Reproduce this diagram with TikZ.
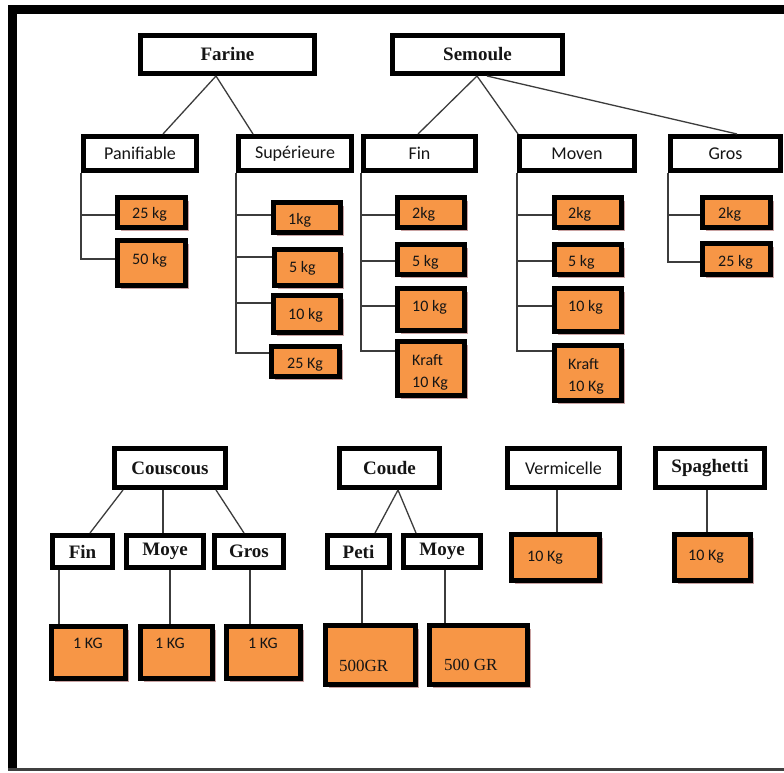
\documentclass[tikz,border=0pt]{standalone}
\usepackage{fontspec}
\setmainfont{Liberation Serif}
\newfontfamily\calfont{Carlito}
\usetikzlibrary{shadows}
\definecolor{orangefill}{HTML}{F79646}
\definecolor{shadowc}{HTML}{C9A2A2}
\definecolor{linec}{HTML}{3C3C3C}
\definecolor{textc}{HTML}{151515}
\newcommand\bx[7]{\node[#2, minimum width={(#5-#3-5)*1pt}, minimum height={(#6-#4-5)*1pt}] (#1) at ({(#3+#5)/2},{(#4+#6)/2}) {#7};}
\tikzset{
  wbox/.style={draw=black, line width=5pt, fill=white, inner sep=0pt, text=textc},
  serifb/.style={font=\fontsize{19}{21}\selectfont\bfseries},
  calmid/.style={font=\calfont\fontsize{18}{20}\selectfont},
  obox/.style={draw=black, line width=5pt, fill=orangefill, inner sep=0pt,
    drop shadow={shadow xshift=3.5pt, shadow yshift=-3.5pt, fill=shadowc, opacity=1}},
  otext/.style={anchor=base west, inner sep=0pt, text=textc, font=\calfont\fontsize{16}{20}\selectfont},
  gtext/.style={anchor=base west, inner sep=0pt, text=textc, font=\fontsize{17}{20}\selectfont},
  conn/.style={draw=linec, line width=1.3pt}
}
\begin{document}
\begin{tikzpicture}[x=1pt,y=-1pt]
\useasboundingbox (0,0) rectangle (784,773);
\fill[white] (0,0) rectangle (784,773);
% frame
\fill[black] (8,5) rectangle (784,14);
\fill[black] (8,5) rectangle (17,771);
\draw[black!75, line width=2.5pt] (8,769.5) -- (784,769.5);

% top level
\bx{farine}{wbox,serifb}{138}{33}{317}{76}{Farine}
\bx{semoule}{wbox,serifb}{390}{33}{565}{76}{Semoule}
\bx{pan}{wbox,calmid}{81}{134}{199}{173}{Panifiable}
\bx{sup}{wbox,calmid}{236}{134}{354}{173}{Supérieure}
\bx{sfin}{wbox,calmid}{361}{134}{478}{173}{Fin}
\bx{smov}{wbox,calmid}{517}{134}{637}{173}{Moven}
\bx{sgros}{wbox,calmid}{668}{134}{783}{173}{Gros}

% orange boxes top
\bx{p25}{obox}{115}{195}{188}{230}{}
\bx{p50}{obox}{115}{238}{188}{288}{}
\bx{s1}{obox}{271}{200}{343}{235}{}
\bx{s5}{obox}{272}{247}{343}{288}{}
\bx{s10}{obox}{271}{293}{343}{335}{}
\bx{s25}{obox}{269}{344}{342}{379}{}
\bx{f2}{obox}{395}{195}{467}{230}{}
\bx{f5}{obox}{395}{242}{467}{277}{}
\bx{f10}{obox}{395}{286}{467}{333}{}
\bx{fk}{obox}{395}{339}{467}{398}{}
\bx{m2}{obox}{552}{195}{624}{230}{}
\bx{m5}{obox}{552}{242}{624}{277}{}
\bx{m10}{obox}{552}{286}{624}{334}{}
\bx{mk}{obox}{552}{343}{624}{403}{}
\bx{g2}{obox}{700}{195}{773}{230}{}
\bx{g25}{obox}{700}{241}{773}{277}{}

\node[otext] (tp25) at (132,218) {25 kg};
\node[otext] (tp50) at (132,264) {50 kg};
\node[otext] (ts1) at (288,224) {1kg};
\node[otext] (ts5) at (289,272) {5 kg};
\node[otext] (ts10) at (288,319) {10 kg};
\node[otext] (ts25) at (287,368) {25 Kg};
\node[otext] (tf2) at (412,218) {2kg};
\node[otext] (tf5) at (412,266) {5 kg};
\node[otext] (tf10) at (412,311) {10 kg};
\node[otext] (tfk1) at (412,365) {Kraft};
\node[otext] (tfk2) at (412,387) {10 Kg};
\node[otext] (tm2) at (568,218) {2kg};
\node[otext] (tm5) at (568,266) {5 kg};
\node[otext] (tm10) at (568,311) {10 kg};
\node[otext] (tmk1) at (568,369) {Kraft};
\node[otext] (tmk2) at (568,391) {10 Kg};
\node[otext] (tg2) at (718,218) {2kg};
\node[otext] (tg25) at (718,266) {25 kg};

% connectors top
\draw[conn] (farine.south -| 216,0) -- (pan.north -| 163,0);
\draw[conn] (farine.south -| 216,0) -- (sup.north -| 253,0);
\draw[conn] (semoule.south -| 477,0) -- (sfin.north -| 418,0);
\draw[conn] (semoule.south -| 477,0) -- (smov.north -| 518,0);
\draw[conn] (semoule.south -| 487,0) -- (sgros.north -| 737,0);

\draw[conn] (pan.south west) |- (p50.west |- 0,259);
\draw[conn] (pan.south west |- 0,215) -- (p25.west |- 0,215);

\draw[conn] (sup.south west) |- (s25.west |- 0,353);
\draw[conn] (sup.south west |- 0,215) -- (s1.west |- 0,215);
\draw[conn] (sup.south west |- 0,257) -- (s5.west |- 0,257);
\draw[conn] (sup.south west |- 0,303) -- (s10.west |- 0,303);

\draw[conn] (sfin.south west) |- (fk.west |- 0,351);
\draw[conn] (sfin.south west |- 0,215) -- (f2.west |- 0,215);
\draw[conn] (sfin.south west |- 0,261) -- (f5.west |- 0,261);
\draw[conn] (sfin.south west |- 0,306) -- (f10.west |- 0,306);

\draw[conn] (smov.south west) |- (mk.west |- 0,351);
\draw[conn] (smov.south west |- 0,215) -- (m2.west |- 0,215);
\draw[conn] (smov.south west |- 0,261) -- (m5.west |- 0,261);
\draw[conn] (smov.south west |- 0,306) -- (m10.west |- 0,306);

\draw[conn] (sgros.south west) |- (g25.west |- 0,262);
\draw[conn] (sgros.south west |- 0,215) -- (g2.west |- 0,215);

% bottom
\bx{cous}{wbox,serifb}{112}{446}{228}{490}{Couscous}
\bx{cfin}{wbox,serifb}{50}{533}{115}{570}{Fin}
\bx{cmoy}{wbox,serifb}{124}{533}{206}{570}{Moye}
\bx{cgros}{wbox,serifb}{212}{533}{286}{570}{Gros}
\bx{k1}{obox}{49}{624}{128}{681}{}
\bx{k2}{obox}{138}{624}{215}{681}{}
\bx{k3}{obox}{224}{624}{303}{681}{}
\node[otext] (tk1) at (73,648) {1 KG};
\node[otext] (tk2) at (155,648) {1 KG};
\node[otext] (tk3) at (248,648) {1 KG};

\bx{coude}{wbox,serifb}{337}{446}{442}{490}{Coude}
\bx{cpeti}{wbox,serifb}{325}{533}{392}{570}{Peti}
\bx{cmoye}{wbox,serifb}{401}{533}{483}{570}{Moye}
\bx{gr1}{obox}{323}{623}{418}{687}{}
\bx{gr2}{obox}{427}{623}{530}{687}{}
\node[gtext] (tgr1) at (339,671) {500GR};
\node[gtext] (tgr2) at (444,670) {500 GR};

\bx{verm}{wbox,calmid}{505}{446}{622}{490}{Vermicelle}
\bx{v10}{obox}{509}{532}{602}{583}{}
\node[otext] (tv10) at (527,561) {10 Kg};
\bx{spag}{wbox,serifb}{653}{446}{767}{490}{Spaghetti}
\bx{sp10}{obox}{672}{532}{753}{583}{}
\node[otext] (tsp10) at (688,560) {10 Kg};

\draw[conn] (cous.south -| 123,0) -- (cfin.north -| 90,0);
\draw[conn] (cous.south -| 163,0) -- (cmoy.north -| 163,0);
\draw[conn] (cous.south -| 216,0) -- (cgros.north -| 244,0);
\draw[conn] (cfin.south -| 59,0) -- (k1.north -| 59,0);
\draw[conn] (cmoy.south -| 170,0) -- (k2.north -| 170,0);
\draw[conn] (cgros.south -| 250,0) -- (k3.north -| 250,0);
\draw[conn] (coude.south -| 398,0) -- (cpeti.north -| 375,0);
\draw[conn] (coude.south -| 398,0) -- (cmoye.north -| 416,0);
\draw[conn] (cpeti.south -| 362,0) -- (gr1.north -| 362,0);
\draw[conn] (cmoye.south -| 445,0) -- (gr2.north -| 445,0);
\draw[conn] (verm.south -| 557,0) -- (v10.north -| 557,0);
\draw[conn] (spag.south -| 707,0) -- (sp10.north -| 707,0);
\end{tikzpicture}
\end{document}
